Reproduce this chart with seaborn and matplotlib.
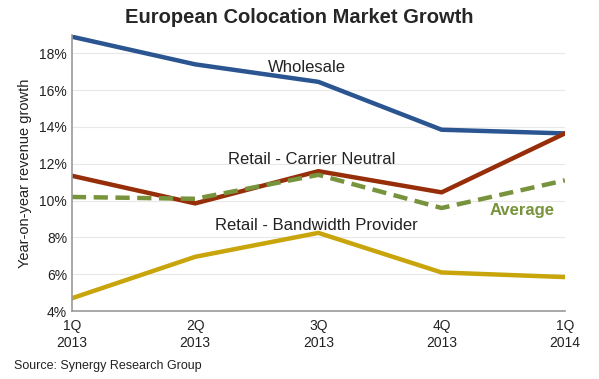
import matplotlib
matplotlib.use("Agg")
import matplotlib.pyplot as plt
import seaborn as sns
import pandas as pd
from matplotlib.ticker import FuncFormatter

# data (% year-on-year growth)
quarters = ["1Q\n2013", "2Q\n2013", "3Q\n2013", "4Q\n2013", "1Q\n2014"]
wholesale = [18.9, 17.4, 16.45, 13.85, 13.65]
carrier_neutral = [11.35, 9.85, 11.6, 10.45, 13.65]
average = [10.2, 10.1, 11.4, 9.6, 11.1]
bandwidth = [4.7, 6.95, 8.25, 6.1, 5.85]

sns.set_style("white")
plt.rcParams["font.family"] = ["Liberation Sans", "DejaVu Sans"]

fig = plt.figure(figsize=(5.99, 3.79), dpi=100)
ax = fig.add_axes([0.120, 0.179, 0.823, 0.729])

x = list(range(len(quarters)))
sns.lineplot(x=x, y=wholesale, ax=ax, color="#2a5591", lw=3.2)
sns.lineplot(x=x, y=carrier_neutral, ax=ax, color="#962e0a", lw=3.2)
sns.lineplot(x=x, y=bandwidth, ax=ax, color="#c9a50c", lw=3.2)
sns.lineplot(x=x, y=average, ax=ax, color="#77933c", lw=3.2, linestyle=(0, (3.2, 1.7)))

ax.set_xlim(0, 4)
ax.set_ylim(4, 19)
ax.set_yticks([4, 6, 8, 10, 12, 14, 16, 18])
ax.yaxis.set_major_formatter(FuncFormatter(lambda v, p: f"{v:.0f}%"))
ax.set_xticks(x)
ax.set_xticklabels(quarters)
ax.tick_params(axis="both", labelsize=10, colors="#222222", length=0)
ax.tick_params(axis="x", pad=6)
ax.grid(axis="y", color="#e8e8e8", lw=0.8)
for s in ["top", "right"]:
    ax.spines[s].set_visible(False)
for s in ["left", "bottom"]:
    ax.spines[s].set_color("#999999")
    ax.spines[s].set_linewidth(1.2)

ax.set_ylabel("Year-on-year revenue growth", fontsize=10.5, color="#222222", labelpad=5)

ax.text(1.59, 17.0, "Wholesale", fontsize=12, color="#222222")
ax.text(1.27, 12.0, "Retail - Carrier Neutral", fontsize=12, color="#222222")
ax.text(1.16, 8.4, "Retail - Bandwidth Provider", fontsize=12, color="#222222")
ax.text(3.39, 9.2, "Average", fontsize=12, color="#77933c", fontweight="bold")

fig.text(0.5, 0.955, "European Colocation Market Growth", fontsize=14.5,
         fontweight="bold", ha="center", va="center")
fig.text(0.023, 0.035, "Source: Synergy Research Group", fontsize=9,
         color="#222222", va="center")

fig.savefig("out.png", dpi=100)
